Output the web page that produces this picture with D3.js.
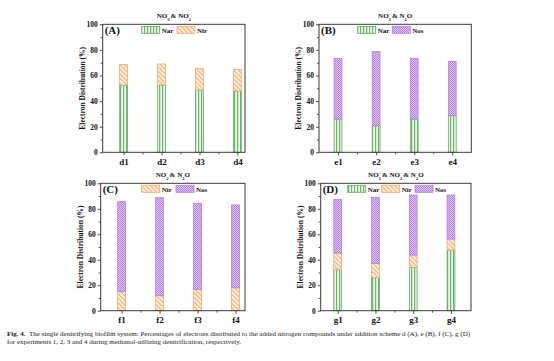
<!DOCTYPE html>
<html>
<head>
<meta charset="utf-8">
<script src="https://cdn.jsdelivr.net/npm/d3@7"></script>
<style>
	body { margin: 0; background: #fff; }
	svg { display: block; }
	text { font-family: "Liberation Serif", "Times New Roman", serif; }
</style>
</head>
<body>
<div id="root"></div>
<script>
// --- data ---
const yTicks = [0, 20, 40, 60, 80, 100]

const catsA = ['d1', 'd2', 'd3', 'd4']
const narA = [52.6, 52.6, 48.7, 47.9]
const nirA = [16.1, 16.4, 16.9, 16.9]

const catsB = ['e1', 'e2', 'e3', 'e4']
const narB = [26.0, 20.8, 26.0, 28.6]
const nosB = [47.4, 57.8, 47.4, 42.5]

const catsC = ['f1', 'f2', 'f3', 'f4']
const nirC = [14.9, 11.8, 16.8, 18.0]
const nosC = [70.7, 76.9, 67.5, 65.0]

const catsD = ['g1', 'g2', 'g3', 'g4']
const narD = [32.5, 25.9, 34.0, 47.6]
const nirD = [12.8, 11.1, 9.7, 8.7]
const nosD = [42.1, 52.0, 47.1, 34.5]

const C = {
	width: 554,
	height: 361,
	axis: '#3a3a3a',
	Nar: { stroke: '#5fae5f', fill: 'url(#pNar)' },
	Nir: { stroke: '#f4a766', fill: 'url(#pNir)' },
	Nos: { stroke: '#b27de6', fill: 'url(#pNos)' },
}

const panels = [
	{ tag: '(A)', cats: catsA, series: [['Nar', narA], ['Nir', nirA]],
		box: { l: 102.7, r: 245, t: 24.3, b: 152.3 }, xDomain: [0.45, 4.2], legX: [141.7, 177],
		title: [['NO'], ['3', 'sub'], ['-', 'sup'], [' & NO'], ['2', 'sub'], ['-', 'sup']] },
	{ tag: '(B)', cats: catsB, series: [['Nar', narB], ['Nos', nosB]],
		box: { l: 319, r: 471.3, t: 24.3, b: 152.3 }, xDomain: [0.5, 4.5], legX: [357.7, 392.3],
		title: [['NO'], ['3', 'sub'], ['-', 'sup'], [' & N'], ['2', 'sub'], ['O']] },
	{ tag: '(C)', cats: catsC, series: [['Nir', nirC], ['Nos', nosC]],
		box: { l: 100.7, r: 245, t: 183.3, b: 310.7 }, xDomain: [0.45, 4.25], legX: [141.7, 176],
		title: [['NO'], ['2', 'sub'], ['-', 'sup'], [' & N'], ['2', 'sub'], ['O']] },
	{ tag: '(D)', cats: catsD, series: [['Nar', narD], ['Nir', nirD], ['Nos', nosD]],
		box: { l: 320.7, r: 471, t: 183.3, b: 310.7 }, xDomain: [0.55, 4.53], legX: [347.7, 381.7, 415],
		title: [['NO'], ['3', 'sub'], ['-', 'sup'], [' & NO'], ['2', 'sub'], ['-', 'sup'], [' & N'], ['2', 'sub'], ['O']] },
]

const svg = d3.select('#root').append('svg')
	.attr('width', C.width)
	.attr('height', C.height)

// --- patterns ---
const defs = svg.append('defs')

const pNar = defs.append('pattern').attr('id', 'pNar')
	.attr('patternUnits', 'userSpaceOnUse').attr('width', 3).attr('height', 3)
pNar.append('rect').attr('width', 3).attr('height', 3).attr('fill', '#eef7ea')
pNar.append('rect').attr('x', 0).attr('width', 1.2).attr('height', 3).attr('fill', '#6cb46c')

const pNir = defs.append('pattern').attr('id', 'pNir')
	.attr('patternUnits', 'userSpaceOnUse').attr('width', 3.2).attr('height', 3.2)
	.attr('patternTransform', 'rotate(-45)')
pNir.append('rect').attr('width', 3.2).attr('height', 3.2).attr('fill', '#fff1e3')
pNir.append('rect').attr('width', 1.1).attr('height', 3.2).attr('fill', '#f4ad72')

const pNos = defs.append('pattern').attr('id', 'pNos')
	.attr('patternUnits', 'userSpaceOnUse').attr('width', 2).attr('height', 2)
pNos.append('rect').attr('width', 2).attr('height', 2).attr('fill', '#e2c8fa')
pNos.append('rect').attr('width', 1).attr('height', 1).attr('fill', '#b47ee8')
pNos.append('rect').attr('x', 1).attr('y', 1).attr('width', 1).attr('height', 1).attr('fill', '#b47ee8')

panels.forEach(drawPanel)

function drawPanel(p) {
	const b = p.box
	const g = svg.append('g')

	const x = d3.scaleLinear().domain(p.xDomain).range([b.l, b.r])
	const y = d3.scaleLinear().domain([0, 100]).range([b.b, b.t])
	const barW = x(1.205) - x(1)

	// stacked data
	const rows = p.cats.map((c, i) => {
		const r = { i: i + 1, cat: c }
		p.series.forEach(s => r[s[0]] = s[1][i])
		return r
	})
	const keys = p.series.map(s => s[0])
	const stacked = d3.stack().keys(keys)(rows)

	stacked.forEach(layer => {
		g.append('g').selectAll('rect')
			.data(layer)
			.enter()
			.append('rect')
			.attr('x', d => x(d.data.i) - barW / 2)
			.attr('y', d => y(d[1]))
			.attr('width', barW)
			.attr('height', d => y(d[0]) - y(d[1]))
			.attr('fill', C[layer.key].fill)
			.attr('stroke', C[layer.key].stroke)
			.attr('stroke-width', 0.8)
	})

	// -- axis --
	const axisY = d3.axisLeft(y).tickValues(yTicks).tickSize(3).tickPadding(2)
	const axisYm = d3.axisLeft(y).tickValues(d3.range(10, 100, 20)).tickSize(2).tickFormat('')
	const axisX = d3.axisBottom(x).tickValues([1, 2, 3, 4]).tickSize(3).tickPadding(3)
		.tickFormat(d => p.cats[d - 1])
	const axisXm = d3.axisBottom(x).tickValues([1.5, 2.5, 3.5]).tickSize(2).tickFormat('')

	const ay = g.append('g').attr('transform', `translate(${b.l},0)`).call(axisY)
	g.append('g').attr('transform', `translate(${b.l},0)`).call(axisYm)
	const ax = g.append('g').attr('transform', `translate(0,${b.b})`).call(axisX)
	g.append('g').attr('transform', `translate(0,${b.b})`).call(axisXm)

	g.selectAll('.domain').remove()
	g.selectAll('.tick line').attr('stroke', C.axis).attr('stroke-width', 0.9)
	ay.selectAll('text').attr('font-size', 7.5).attr('font-weight', 'bold').attr('fill', '#111')
	ax.selectAll('text').attr('font-size', 9).attr('font-weight', 'bold').attr('fill', '#111')

	g.append('rect')
		.attr('x', b.l).attr('y', b.t)
		.attr('width', b.r - b.l).attr('height', b.b - b.t)
		.attr('fill', 'none').attr('stroke', C.axis).attr('stroke-width', 1)

	// y label
	g.append('text')
		.attr('transform', `translate(${b.l - 18},${(b.t + b.b) / 2}) rotate(-90)`)
		.attr('text-anchor', 'middle')
		.attr('font-size', 7.5).attr('font-weight', 'bold').attr('fill', '#111')
		.text('Electron Distribution (%)')

	// panel tag
	g.append('text')
		.attr('x', b.l + 2).attr('y', b.t + 10)
		.attr('font-size', 11).attr('font-weight', 'bold').attr('fill', '#111')
		.text(p.tag)

	// legend
	keys.forEach((k, i) => {
		const lx = p.legX[i]
		g.append('rect')
			.attr('x', lx).attr('y', b.t + 2)
			.attr('width', 18).attr('height', 7)
			.attr('fill', C[k].fill).attr('stroke', C[k].stroke).attr('stroke-width', 0.8)
		g.append('text')
			.attr('x', lx + 20).attr('y', b.t + 8.5)
			.attr('font-size', 7).attr('font-weight', 'bold').attr('fill', '#111')
			.text(k)
	})

	// title with sub/superscripts
	const t = g.append('text')
		.attr('x', (b.l + b.r) / 2).attr('y', b.t - 6)
		.attr('text-anchor', 'middle')
		.attr('font-size', 7).attr('font-weight', 'bold').attr('fill', '#111')
	let prev = null
	p.title.forEach(part => {
		const s = t.append('tspan').text(part[0])
		if (part[1] === 'sub') {
			s.attr('font-size', 4.5).attr('dy', 3)
		} else if (part[1] === 'sup') {
			s.attr('font-size', 4.5).attr('dy', prev === 'sub' ? -6 : -3).attr('dx', prev === 'sub' ? -2.2 : 0)
		} else if (prev === 'sub') {
			s.attr('dy', -3)
		} else if (prev === 'sup') {
			s.attr('dy', 3)
		}
		prev = part[1] || null
	})
}

// caption
const cap = svg.append('g').attr('fill', '#222').attr('font-size', 7)
const l1 = cap.append('text').attr('x', 7).attr('y', 335.5)
l1.append('tspan').attr('font-weight', 'bold').text('Fig. 4.')
l1.append('tspan').text('\u2002The single denitrifying biofilm system: Percentages of electrons distributed to the added nitrogen compounds under addition scheme d (A), e (B), f (C), g (D)')
cap.append('text').attr('x', 7).attr('y', 344)
	.text('for experiments 1, 2, 3 and 4 during methanol-utilizing denitrification, respectively.')
</script>
</body>
</html>
